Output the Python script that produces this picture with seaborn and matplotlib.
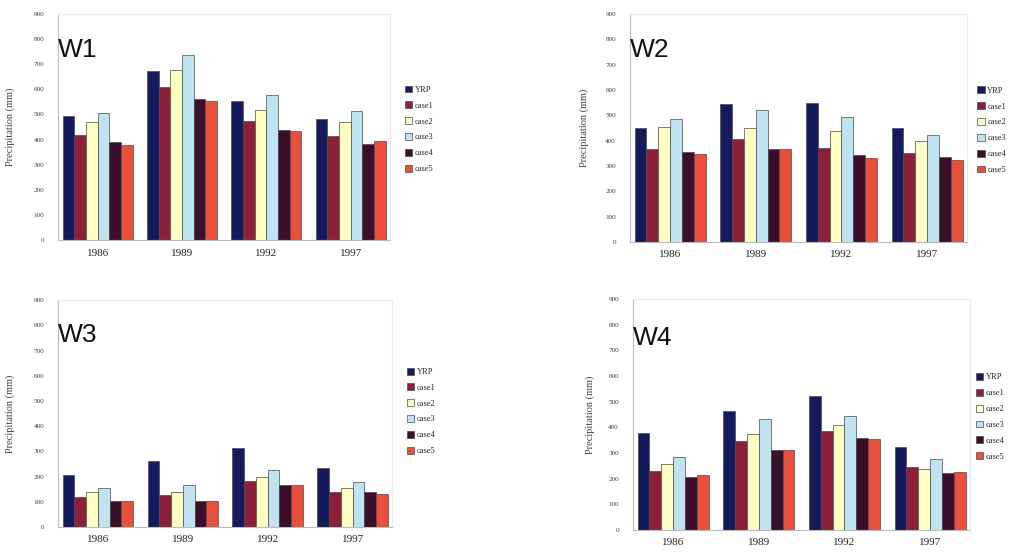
import matplotlib
matplotlib.use("Agg")
import matplotlib.pyplot as plt
import seaborn as sns
import pandas as pd

years = ["1986", "1989", "1992", "1997"]
series = ["YRP", "case1", "case2", "case3", "case4", "case5"]
panel_names = ["W1", "W2", "W3", "W4"]
yticks = [0, 100, 200, 300, 400, 500, 600, 700, 800, 900]

w1_yrp = [495, 672, 555, 483]
w1_case1 = [419, 609, 475, 416]
w1_case2 = [472, 678, 519, 472]
w1_case3 = [505, 735, 576, 515]
w1_case4 = [390, 562, 440, 384]
w1_case5 = [379, 552, 435, 396]

w2_yrp = [450, 545, 548, 448]
w2_case1 = [366, 405, 372, 352]
w2_case2 = [455, 449, 436, 399]
w2_case3 = [485, 521, 492, 423]
w2_case4 = [355, 366, 343, 336]
w2_case5 = [346, 366, 332, 323]

w3_yrp = [207, 263, 315, 233]
w3_case1 = [119, 128, 183, 141]
w3_case2 = [140, 141, 200, 154]
w3_case3 = [157, 168, 227, 177]
w3_case4 = [104, 102, 168, 139]
w3_case5 = [104, 104, 168, 130]

w4_yrp = [376, 464, 523, 322]
w4_case1 = [228, 347, 386, 245]
w4_case2 = [258, 372, 410, 237]
w4_case3 = [284, 432, 446, 278]
w4_case4 = [208, 311, 360, 221]
w4_case5 = [215, 311, 355, 225]

panel_values = [
    [w1_yrp, w1_case1, w1_case2, w1_case3, w1_case4, w1_case5],
    [w2_yrp, w2_case1, w2_case2, w2_case3, w2_case4, w2_case5],
    [w3_yrp, w3_case1, w3_case2, w3_case3, w3_case4, w3_case5],
    [w4_yrp, w4_case1, w4_case2, w4_case3, w4_case4, w4_case5],
]

colors = ["#151a5c", "#8c2038", "#ffffc4", "#bfe3f0", "#3b0f2c", "#e8503c"]

sns.set_theme(style="white")
plt.rcParams["font.family"] = ["Liberation Serif", "DejaVu Serif"]

fig = plt.figure(figsize=(10.11, 5.56), dpi=100)

# axes rectangles [left, bottom, width, height] in figure fraction
rects = [
    [0.0574, 0.568, 0.328, 0.407],
    [0.623, 0.565, 0.333, 0.410],
    [0.0574, 0.052, 0.330, 0.408],
    [0.626, 0.047, 0.333, 0.415],
]
legend_anchor = [(1.035, 0.49), (1.022, 0.49), (1.035, 0.51), (1.008, 0.49)]
ylabel_x = [-0.13, -0.12, -0.13, -0.113]
title_y = [0.81, 0.81, 0.815, 0.80]

for i in range(4):
    ax = fig.add_axes(rects[i])
    rows = []
    for s, vals in zip(series, panel_values[i]):
        for y, v in zip(years, vals):
            rows.append({"year": y, "series": s, "value": v})
    df = pd.DataFrame(rows)
    sns.barplot(data=df, x="year", y="value", hue="series", order=years,
                hue_order=series, palette=colors, width=0.83, gap=0,
                edgecolor="#4a4a4a", linewidth=0.5, ax=ax, saturation=1)
    ax.set_ylim(0, 900)
    ax.set_xlim(-0.47, 3.46)
    ax.set_yticks(yticks)
    ax.set_yticklabels([str(t) for t in yticks], fontsize=5.2, color="#444444")
    ax.tick_params(axis="y", length=0, pad=10)
    ax.tick_params(axis="x", length=0, pad=6, labelsize=8, labelcolor="#222222")
    ax.set_xlabel("")
    ax.set_ylabel("Precipitation (mm)", fontsize=7.5, color="#444444")
    ax.yaxis.set_label_coords(ylabel_x[i], 0.5)
    for side in ["left", "bottom"]:
        ax.spines[side].set_color("#bdbdbd")
        ax.spines[side].set_linewidth(0.8)
    for side in ["top", "right"]:
        ax.spines[side].set_color("#ececec")
        ax.spines[side].set_linewidth(0.8)
    ax.text(0.0, title_y[i], panel_names[i], transform=ax.transAxes,
            fontsize=19, family="Liberation Sans", color="#111111",
            va="baseline", ha="left")
    handles, labels = ax.get_legend_handles_labels()
    ax.legend(handles, labels, loc="center left", bbox_to_anchor=legend_anchor[i],
              frameon=False, fontsize=6, handlelength=0.9, handleheight=0.9,
              handletextpad=0.3, labelspacing=0.9, borderaxespad=0)

fig.savefig("out.png", dpi=100)
